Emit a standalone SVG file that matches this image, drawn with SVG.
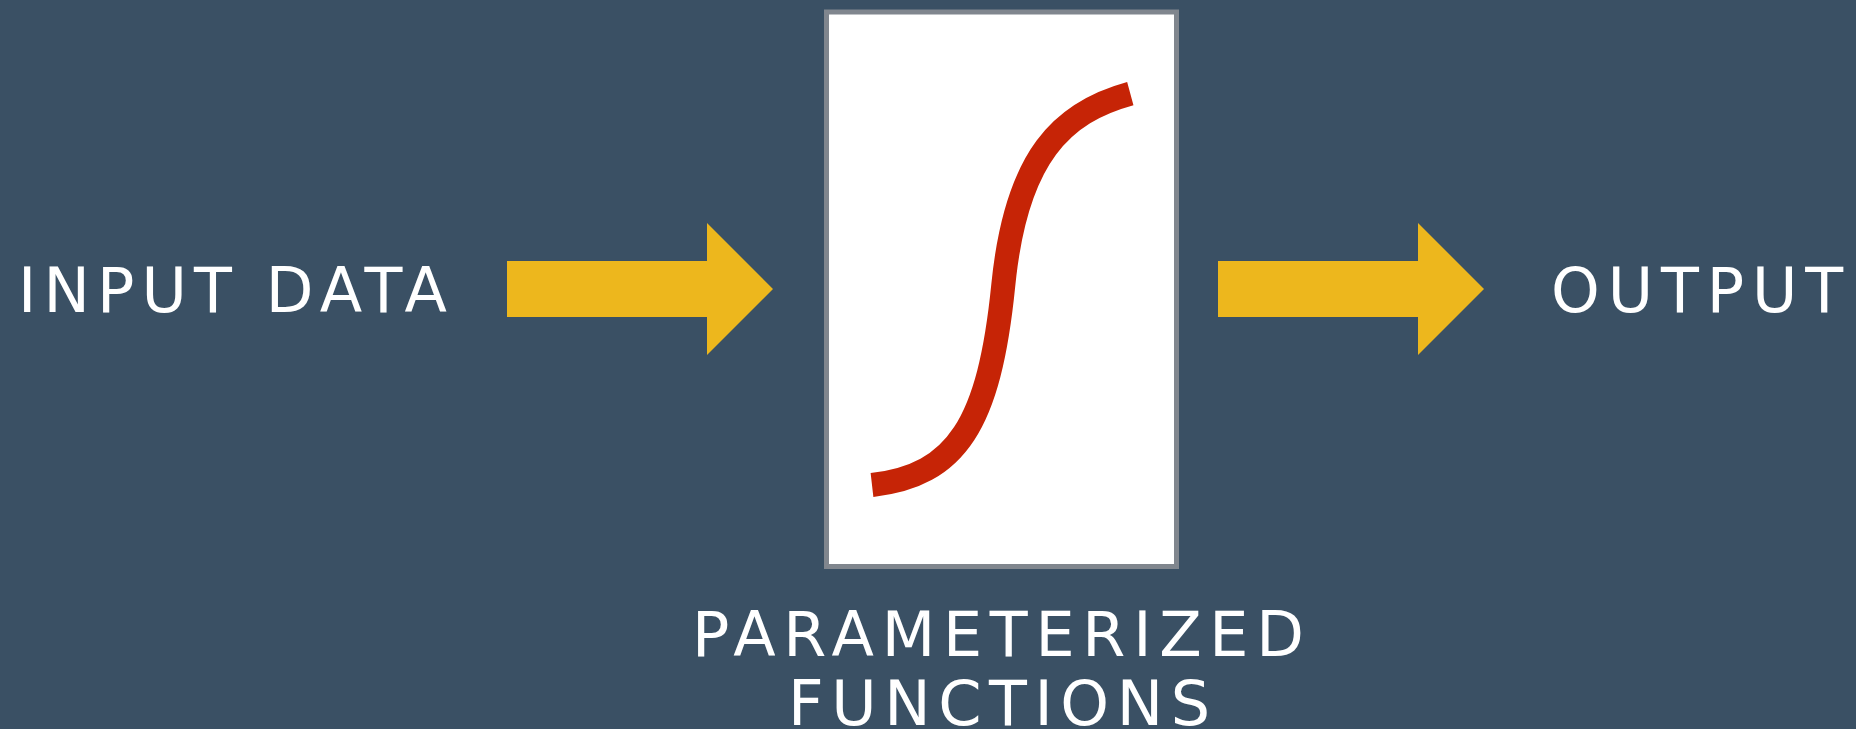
<svg xmlns="http://www.w3.org/2000/svg" width="1856" height="729" viewBox="0 0 1856 729">
  <style>
    .lbl { font-family: "DejaVu Sans", "Liberation Sans", sans-serif; font-size: 62px; font-weight: 400; fill: #ffffff; }
    .arrow { fill: #EDB71D; }
    .box { fill: #ffffff; stroke: #80868E; stroke-width: 5; }
    .curve { fill: none; stroke: #C62406; stroke-width: 24; stroke-linecap: butt; }
  </style>
  <rect x="0" y="0" width="1856" height="729" fill="#3A5064"/>

  <g id="connectors">
    <polygon class="arrow" points="507,261 707,261 707,223 773,289 707,355 707,317 507,317"/>
    <polygon class="arrow" points="1218,261 1418,261 1418,223 1484,289 1418,355 1418,317 1218,317"/>
  </g>

  <g id="node-input">
    <text class="lbl" x="18" y="312" textLength="429" lengthAdjust="spacing">INPUT DATA</text>
  </g>

  <g id="node-function">
    <rect class="box" x="826.5" y="12" width="350" height="554.5"/>
    <path class="curve" d="M 872 485 C 956.5 475.3, 989.4 424.3, 1003.3 285 C 1016.2 155.6, 1062.7 112.1, 1130.3 93.7"/>
    <text class="lbl" x="692" y="656" textLength="612" lengthAdjust="spacing">PARAMETERIZED</text>
    <text class="lbl" x="788" y="725" textLength="422" lengthAdjust="spacing">FUNCTIONS</text>
  </g>

  <g id="node-output">
    <text class="lbl" x="1551" y="312" textLength="292" lengthAdjust="spacing">OUTPUT</text>
  </g>
</svg>
